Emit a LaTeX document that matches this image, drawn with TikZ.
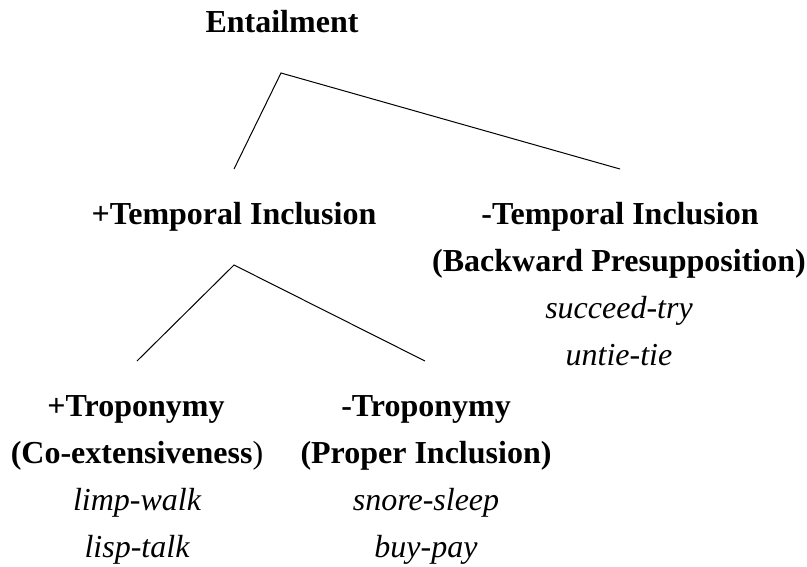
\documentclass[tikz,border=0pt]{standalone}
\usepackage{fontspec}
\setmainfont{Liberation Serif}
\usepackage{tikz}
\tikzset{
    head/.style={font=\fontsize{32}{38}\selectfont\bfseries, anchor=base, inner sep=0pt},
    ex/.style={font=\fontsize{32}{38}\selectfont\itshape, anchor=base, inner sep=0pt},
    branch/.style={line width=1pt}
}

\begin{document}
\begin{tikzpicture}[x=1pt,y=-1pt]
            \useasboundingbox (0,0) rectangle (807,566);

            \node[head] (ent) at (282,32) {Entailment};
            \node[head] (ptemp) at (234,224) {+Temporal Inclusion};
            \node[head] (mtemp) at (620,224) {-Temporal Inclusion};
            \node[head] (back) at (619,271) {(Backward Presupposition)};
            \node[ex] (succ) at (619,318) {succeed-try};
            \node[ex] (untie) at (619,365) {untie-tie};

            \node[head] (ptrop) at (136,416) {+Troponymy};
            \node[head] (coext) at (137,463) {(Co-extensiveness\textmd{)}};
            \node[ex] (limp) at (137,510) {limp-walk};
            \node[ex] (lisp) at (137,557) {lisp-talk};
            \node[head] (mtrop) at (426,416) {-Troponymy};
            \node[head] (prop) at (426,463) {(Proper Inclusion)};
            \node[ex] (snore) at (426,510) {snore-sleep};
            \node[ex] (buy) at (426,557) {buy-pay};

            \coordinate (top1) at (281,73);
            \coordinate (l1) at (234,169);
            \coordinate (r1) at (620,169);
            \coordinate (top2) at (234,265);
            \coordinate (l2) at (137,361);
            \coordinate (r2) at (425,361);

            \draw[branch] (l1) -- (top1) -- (r1);
            \draw[branch] (l2) -- (top2) -- (r2);

        \end{tikzpicture}
\end{document}
